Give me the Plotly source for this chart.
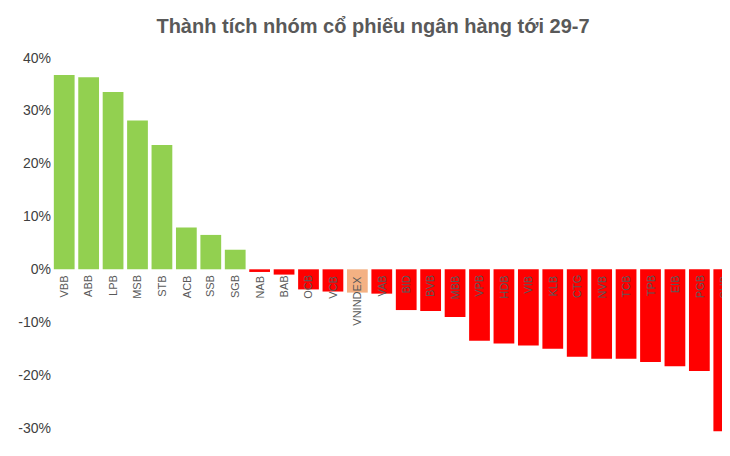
import plotly.graph_objects as go

cats = ["VBB","ABB","LPB","MSB","STB","ACB","SSB","SGB","NAB","BAB","OCB","VCB","VNINDEX","VAB","BID","BVB","MBB","VPB","HDB","VIB","KLB","CTG","NVB","TCB","TPB","EIB","PGB","SHB"]
vals = [36.7,36.3,33.5,28.1,23.5,7.9,6.5,3.7,-0.5,-1.0,-3.8,-4.2,-4.4,-4.6,-7.7,-7.9,-9.0,-13.5,-14.0,-14.4,-15.0,-16.5,-16.9,-16.9,-17.5,-18.3,-19.2,-30.6]
tick_vals = [-30,-20,-10,0,10,20,30,40]
tick_text = [f"{v}%" for v in tick_vals]

colors = ["#f4b183" if c == "VNINDEX" else ("#92d050" if v > 0 else "#ff0000") for c, v in zip(cats, vals)]

fig = go.Figure(go.Bar(x=cats, y=vals, marker_color=colors, marker_line_width=0, width=0.85))
for c in cats:
    fig.add_annotation(x=c, y=0, text=c, textangle=-90, yanchor="top", xanchor="center",
                       showarrow=False, yshift=-4, font=dict(size=11, color="#595959"))
fig.update_layout(
    width=730, height=456, plot_bgcolor="white", paper_bgcolor="white",
    margin=dict(l=44, r=2, t=47, b=28),
    title=dict(text="<b>Thành tích nhóm cổ phiếu ngân hàng tới 29-7</b>", x=0.5, y=0.975, yanchor="top",
               font=dict(family="Liberation Sans, Arial", size=20, color="#595959")),
    font=dict(family="Liberation Sans, Arial", color="#404040"),
    xaxis=dict(showticklabels=False, showgrid=False, showline=False),
    yaxis=dict(range=[-31.5, 40.5], tickmode="array", tickvals=tick_vals, ticktext=tick_text,
               showgrid=False, zeroline=False, tickfont=dict(size=14, color="#404040")),
    bargap=0.15,
)
fig.write_html("out.html")
